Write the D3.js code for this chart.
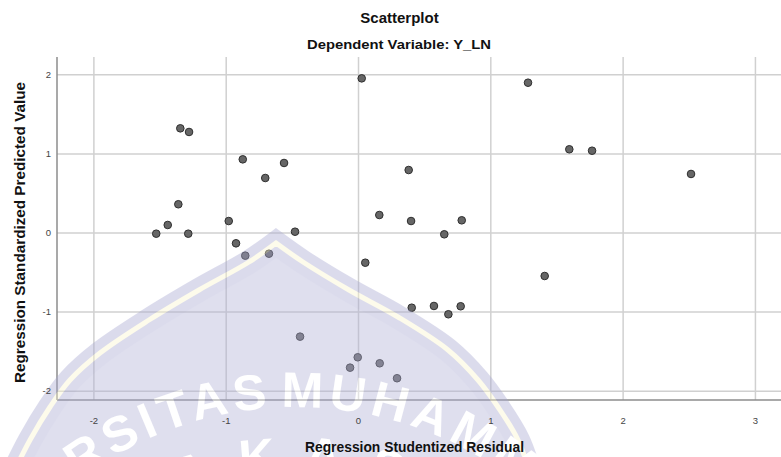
<!DOCTYPE html>
<html>
<head>
<meta charset="utf-8">
<script src="https://d3js.org/d3.v7.min.js"></script>
<style>
  body { margin: 0; background: #fff; }
  svg { display: block; font-family: "Liberation Sans", Arial, sans-serif; }
  .tickLabels text { font-family: "Liberation Sans Narrow", "Liberation Sans", Arial, sans-serif; font-size: 9.5px; fill: #444; }
</style>
</head>
<body>
<div id="scatter"></div>
<script>
// Scatterplot - Dependent Variable: Y_LN

// Section 1: Data

// Regression Studentized Residual (x)
var residual = [
  -1.525, -1.438, -1.358, -1.343, -1.277, -1.283, -0.977, -0.922, -0.871, -0.852,
  -0.701, -0.673, -0.559, -0.476, -0.438, -0.060, -0.002, 0.028, 0.055, 0.161,
  0.164, 0.295, 0.383, 0.401, 0.406, 0.574, 0.652, 0.683, 0.776, 0.784,
  1.285, 1.411, 1.597, 1.769, 2.517
];

// Regression Standardized Predicted Value (y)
var predicted = [
  -0.015, 0.095, 0.357, 1.317, 1.271, -0.015, 0.145, -0.137, 0.925, -0.293,
  0.689, -0.268, 0.879, 0.010, -1.317, -1.709, -1.578, 1.949, -0.382, 0.221,
  -1.654, -1.843, 0.790, 0.145, -0.951, -0.929, -0.023, -1.034, -0.933, 0.154,
  1.894, -0.550, 1.052, 1.034, 0.740
];

// Tick labels
var xTicks = [-2, -1, 0, 1, 2, 3];
var yTicks = [-2, -1, 0, 1, 2];

// Section 2: Set up

var width = 781;
var height = 457;

// Plot frame
var plotLeft = 57;
var plotRight = 781;
var plotTop = 57;
var plotBottom = 400;

var svg = d3
  .select("#scatter")
  .append("svg")
  .attr("width", width)
  .attr("height", height);

var xScale = d3
  .scaleLinear()
  .domain([-2.275, 3.197])
  .range([plotLeft, plotRight]);

var yScale = d3
  .scaleLinear()
  .domain([-2.118, 2.219])
  .range([plotBottom, plotTop]);

// Gridlines
var xGrid = svg
  .append("g")
  .attr("transform", "translate(0," + plotBottom + ")")
  .call(d3.axisBottom(xScale).tickValues(xTicks).tickSize(-(plotBottom - plotTop)).tickFormat(""));

var yGrid = svg
  .append("g")
  .attr("transform", "translate(" + plotLeft + ",0)")
  .call(d3.axisLeft(yScale).tickValues(yTicks).tickSize(-(plotRight - plotLeft)).tickFormat(""));

xGrid.select(".domain").remove();
yGrid.select(".domain").remove();
svg.selectAll(".tick line").attr("stroke", "#d0d0d0").attr("stroke-width", 1.5);

// Axis lines (left and bottom only)
svg.append("line")
  .attr("x1", plotLeft).attr("x2", plotLeft)
  .attr("y1", plotTop).attr("y2", plotBottom)
  .attr("stroke", "#8c8c8c").attr("stroke-width", 1.5);

svg.append("line")
  .attr("x1", plotLeft).attr("x2", plotRight)
  .attr("y1", plotBottom).attr("y2", plotBottom)
  .attr("stroke", "#8c8c8c").attr("stroke-width", 1.5);

// Section 3: Points

var pts = residual.map(function(r, i) {
  return { x: r, y: predicted[i] };
});

svg.append("g")
  .selectAll("circle")
  .data(pts)
  .enter()
  .append("circle")
  .attr("cx", function(d) { return xScale(d.x); })
  .attr("cy", function(d) { return yScale(d.y); })
  .attr("r", 3.8)
  .attr("fill", "#666")
  .attr("stroke", "#2e2e2e")
  .attr("stroke-width", 1);

// Section 4: Watermark (faint logo over the plot)

var wm = svg.append("g").attr("opacity", 0.4);

// pointed dome, left and right halves meet in a sharp tip
var domeLine = d3.line().curve(d3.curveCatmullRom);
var domeLeft = [[10, 480], [30, 440], [50, 407], [70, 380], [100, 353], [149, 320], [199, 290], [249, 262], [276, 243]];
var domeRight = [[276, 243], [303, 262], [349, 290], [398, 317], [448, 350], [478, 380], [498, 407], [518, 440], [532, 480]];
var domePath = domeLine(domeLeft) + domeLine(domeRight).replace(/^M/, "L");

wm.append("path")
  .attr("d", domePath + "Z")
  .attr("fill", "#b0b0d6")
  .attr("stroke", "#a8a8d2")
  .attr("stroke-width", 24)
  .attr("stroke-linejoin", "miter")
  .attr("stroke-miterlimit", 20);

wm.append("path")
  .attr("d", domePath)
  .attr("fill", "none")
  .attr("stroke", "#fbf6cf")
  .attr("stroke-width", 5)
  .attr("stroke-linejoin", "miter")
  .attr("stroke-miterlimit", 20);

var defs = svg.append("defs");
defs.append("path")
  .attr("id", "arcOuter")
  .attr("d", "M " + (296 - 361) + ",768 A 361 361 0 0 1 " + (296 + 361) + ",768");
defs.append("path")
  .attr("id", "arcInner")
  .attr("d", "M " + (296 - 296) + ",768 A 296 296 0 0 1 " + (296 + 296) + ",768");

var wmText = wm.append("g")
  .attr("fill", "#fff")
  .attr("font-size", 50)
  .attr("font-weight", "bold");

wmText.append("text")
  .attr("letter-spacing", 5)
  .append("textPath")
  .attr("href", "#arcOuter")
  .attr("startOffset", 156)
  .text("UNIVERSITAS");

wmText.append("text")
  .attr("letter-spacing", 5)
  .append("textPath")
  .attr("href", "#arcOuter")
  .attr("startOffset", 552)
  .text("MUHAMMADIYAH");

wmText.append("text")
  .attr("letter-spacing", 27)
  .append("textPath")
  .attr("href", "#arcInner")
  .attr("startOffset", 277)
  .text("MAKASSAR");

// Section 5: Tick labels

var xLabels = svg
  .append("g")
  .attr("class", "tickLabels")
  .attr("transform", "translate(0," + plotBottom + ")")
  .call(d3.axisBottom(xScale).tickValues(xTicks).tickSize(0).tickPadding(17.5).tickFormat(function(d) { return String(d); }));

var yLabels = svg
  .append("g")
  .attr("class", "tickLabels")
  .attr("transform", "translate(" + plotLeft + ",0)")
  .call(d3.axisLeft(yScale).tickValues(yTicks).tickSize(0).tickPadding(6).tickFormat(function(d) { return String(d); }));

xLabels.select(".domain").remove();
yLabels.select(".domain").remove();

// Section 6: Titles

svg.append("text")
  .attr("x", 399.5)
  .attr("y", 22.7)
  .attr("text-anchor", "middle")
  .attr("font-size", 15)
  .attr("font-weight", "bold")
  .attr("fill", "#111")
  .text("Scatterplot");

svg.append("text")
  .attr("x", 399)
  .attr("y", 48.5)
  .attr("text-anchor", "middle")
  .attr("font-size", 13.5)
  .attr("font-weight", "bold")
  .attr("fill", "#111")
  .attr("textLength", 184)
  .attr("lengthAdjust", "spacingAndGlyphs")
  .text("Dependent Variable: Y_LN");

svg.append("text")
  .attr("x", 414.5)
  .attr("y", 452)
  .attr("text-anchor", "middle")
  .attr("font-size", 15)
  .attr("font-weight", "bold")
  .attr("fill", "#111")
  .attr("textLength", 219)
  .attr("lengthAdjust", "spacingAndGlyphs")
  .text("Regression Studentized Residual");

svg.append("text")
  .attr("transform", "translate(25,232.5)rotate(-90)")
  .attr("text-anchor", "middle")
  .attr("font-size", 15.5)
  .attr("font-weight", "bold")
  .attr("fill", "#111")
  .attr("textLength", 301)
  .attr("lengthAdjust", "spacingAndGlyphs")
  .text("Regression Standardized Predicted Value");
</script>
</body>
</html>
